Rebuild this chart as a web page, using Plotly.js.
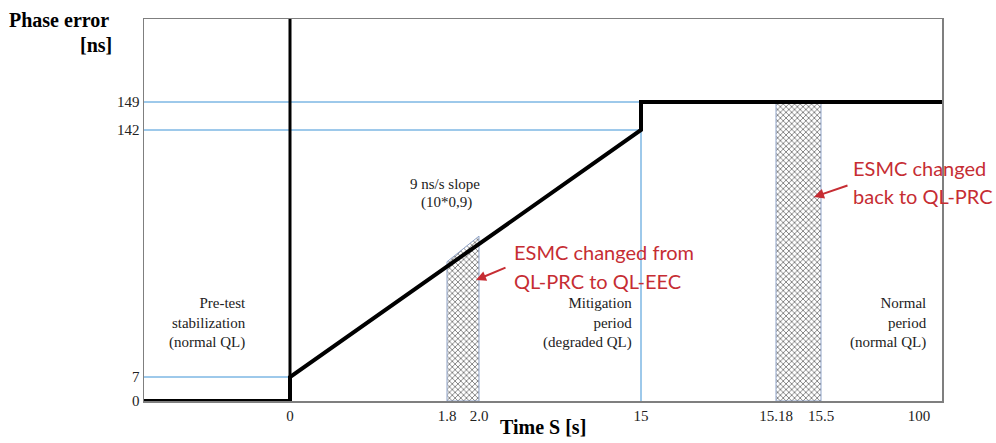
<!DOCTYPE html>
<html>
<head>
<meta charset="utf-8">
<script src="https://cdn.plot.ly/plotly-3.0.1.min.js"></script>
<style>
html,body{margin:0;padding:0;background:#fff;}
#chart{width:996px;height:443px;}
</style>
</head>
<body>
<div id="chart"></div>
<script>
// ---- Schematic (broken) scales ----
const timeKnots   = [-10, 0, 1.8, 2.0, 15, 15.18, 15.5, 100, 110];
const timeAxisPos = [-146, 0, 157, 189, 351, 486, 531, 629, 652];
const phaseKnots   = [0, 7, 142, 149, 180];
const phaseAxisPos = [0, 24, 271, 299, 382];

// ---- Tick labels ----
const timeTickValues  = [0, 1.8, 2.0, 15, 15.18, 15.5, 100];
const timeTickLabels  = ['0', '1.8', '2.0', '15', '15.18', '15.5', '100'];
const phaseTickValues = [0, 7, 142, 149];
const phaseTickLabels = ['0', '7', '142', '149'];

// ---- Phase error profile ----
const profileTime  = [-10, 0, 0, 15, 15, 110];
const profilePhase = [0, 0, 7, 142, 149, 149];

// ---- ESMC change intervals (hatched) ----
const esmcStart    = [1.8, 15.18];
const esmcEnd      = [2.0, 15.5];
const esmcTopStart = [70, 149];
const esmcTopEnd   = [84, 149];

function mapScale(v, knots, pos) {
  for (let i = 0; i < knots.length - 1; i++) {
    if (v <= knots[i + 1] || i === knots.length - 2) {
      const f = (v - knots[i]) / (knots[i + 1] - knots[i]);
      return pos[i] + f * (pos[i + 1] - pos[i]);
    }
  }
}
const tx = v => mapScale(v, timeKnots, timeAxisPos);
const py = v => mapScale(v, phaseKnots, phaseAxisPos);

// pixel -> paper helpers for text placement
const L = 144, R = 942, T = 19, B = 401;
const PX = x => (x - L) / (R - L);
const PY = y => (B - y) / (B - T);

const blue = '#3D93D6';
const red = '#C62D33';
const serif = 'Liberation Serif, Times New Roman, serif';

const traces = [];

// hatched intervals
esmcStart.forEach((s, i) => {
  traces.push({
    type: 'scatter', mode: 'lines',
    x: [s, s, esmcEnd[i], esmcEnd[i], s].map(tx),
    y: [0, esmcTopStart[i], esmcTopEnd[i], 0, 0].map(py),
    fill: 'toself', fillcolor: '#ffffff',
    fillpattern: {shape: 'x', fgcolor: '#4a4a4a', bgcolor: '#ffffff', size: 4, solidity: 0.3, fillmode: 'replace'},
    line: {color: '#8FA3C8', width: 1},
    hoverinfo: 'skip', showlegend: false
  });
});

// blue guide lines
const guideLines = [
  {x: [timeKnots[0], 15], y: [149, 149]},
  {x: [timeKnots[0], 15], y: [142, 142]},
  {x: [timeKnots[0], 0], y: [7, 7]},
  {x: [15, 15], y: [149, 0]}
];
guideLines.forEach(g => traces.push({
  type: 'scatter', mode: 'lines',
  x: g.x.map(tx), y: g.y.map(py),
  line: {color: blue, width: 1},
  hoverinfo: 'skip', showlegend: false
}));

// profile line
traces.push({
  type: 'scatter', mode: 'lines',
  x: profileTime.map(tx), y: profilePhase.map(py),
  line: {color: '#000000', width: 4},
  hoverinfo: 'skip', showlegend: false
});

const txt = (text, x, y, opts) => Object.assign({
  text, xref: 'paper', yref: 'paper', x: PX(x), y: PY(y),
  showarrow: false, font: {family: serif, size: 15, color: '#222'}
}, opts || {});
const redFont = {family: 'Lato, sans-serif', size: 20, color: red};
const titleFont = {family: serif, size: 20, color: '#000'};

const annotations = [
  txt('<b>Phase error</b>', 111, 20, {xanchor: 'right', yanchor: 'middle', font: titleFont}),
  txt('<b>[ns]</b>', 114, 45, {xanchor: 'right', yanchor: 'middle', font: titleFont}),
  txt('<b>Time S [s]</b>', 543, 427, {xanchor: 'center', yanchor: 'middle', font: titleFont}),
  txt('9 ns/s slope', 445, 184, {xanchor: 'center', yanchor: 'middle'}),
  txt('(10*0,9)', 446, 203, {xanchor: 'center', yanchor: 'middle'}),
  txt('Pre-test<br>stabilization<br>(normal QL)', 248, 323, {xanchor: 'right', yanchor: 'middle', align: 'right'}),
  txt('Mitigation<br>period<br>(degraded QL)', 634, 323, {xanchor: 'right', yanchor: 'middle', align: 'right'}),
  txt('Normal<br>period<br>(normal QL)', 929, 323, {xanchor: 'right', yanchor: 'middle', align: 'right'}),
  txt('ESMC changed from', 512, 252, {xanchor: 'left', yanchor: 'middle', font: redFont}),
  txt('QL-PRC to QL-EEC', 512, 281, {xanchor: 'left', yanchor: 'middle', font: redFont}),
  txt('ESMC changed', 851, 168, {xanchor: 'left', yanchor: 'middle', font: redFont}),
  txt('back to QL-PRC', 851, 196, {xanchor: 'left', yanchor: 'middle', font: redFont}),
  {text: '', xref: 'paper', yref: 'paper', x: PX(476), y: PY(280), showarrow: true,
   ax: 31, ay: -13, arrowhead: 2, arrowsize: 1, arrowwidth: 2, arrowcolor: red, standoff: 0},
  {text: '', xref: 'paper', yref: 'paper', x: PX(814), y: PY(197), showarrow: true,
   ax: 35, ay: -12, arrowhead: 2, arrowsize: 1, arrowwidth: 2, arrowcolor: red, standoff: 0}
];

const layout = {
  width: 996, height: 443,
  margin: {l: L, r: 996 - R, t: T, b: 443 - B},
  paper_bgcolor: '#fff', plot_bgcolor: '#fff',
  showlegend: false,
  xaxis: {
    range: [timeAxisPos[0], timeAxisPos[timeAxisPos.length - 1]],
    tickvals: timeTickValues.map(tx), ticktext: timeTickLabels,
    showgrid: false, zeroline: false, ticks: '',
    showline: true, mirror: true, linecolor: '#7f7f7f', linewidth: 1.5,
    tickfont: {family: serif, size: 15, color: '#222'}
  },
  yaxis: {
    range: [0, phaseAxisPos[phaseAxisPos.length - 1]],
    tickvals: phaseTickValues.map(py), ticktext: phaseTickLabels,
    showgrid: false, zeroline: false, ticks: '',
    showline: true, mirror: true, linecolor: '#7f7f7f', linewidth: 1.5,
    tickfont: {family: serif, size: 15, color: '#222'}
  },
  shapes: [
    {type: 'line', xref: 'x', yref: 'paper', x0: tx(0), x1: tx(0), y0: 0, y1: 1,
     line: {color: '#000', width: 3}, layer: 'above'}
  ],
  annotations
};

Plotly.newPlot('chart', traces, layout, {staticPlot: true, displayModeBar: false});
</script>
</body>
</html>
